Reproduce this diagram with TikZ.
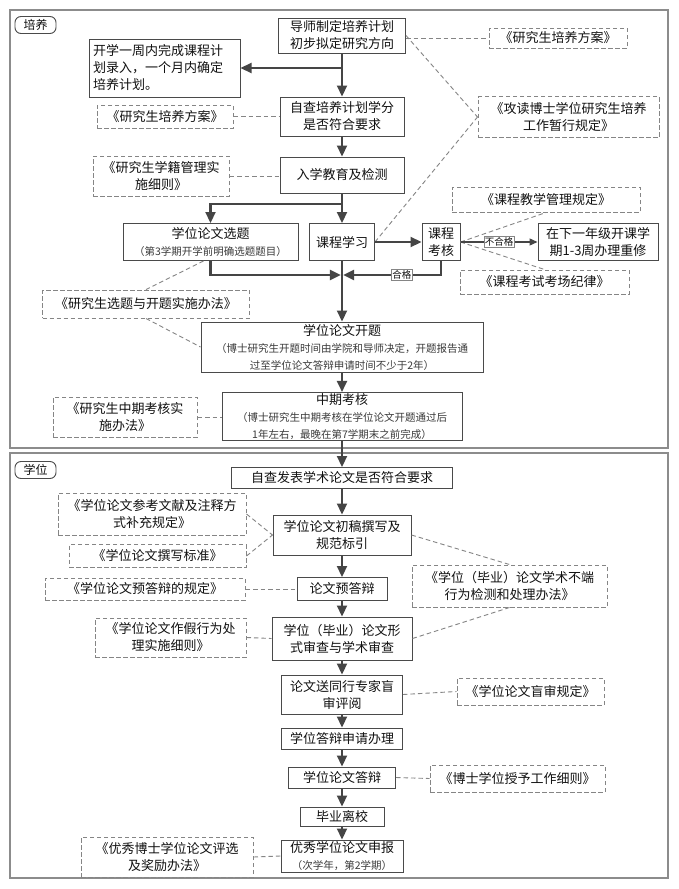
\documentclass[tikz,border=0pt]{standalone}
\usepackage{fontspec}
\setmainfont{Noto Sans CJK SC}
\newfontfamily\smf{Noto Sans CJK SC}
\usetikzlibrary{arrows.meta,calc}
\definecolor{bord}{HTML}{4A4A4A}
\definecolor{dashc}{HTML}{858585}
\definecolor{frm}{HTML}{8C8C8C}
\definecolor{arrc}{HTML}{454545}
\definecolor{txt}{HTML}{111111}
\definecolor{smc}{HTML}{3A3A3A}
\newcommand\smtxt{\smf\fontsize{10.5}{14}\selectfont\color{smc}}
\begin{document}
\begin{tikzpicture}[x=1pt,y=-1pt,
 sz/.style 2 args={minimum width=#1pt,minimum height=#2pt},
 box/.style={draw=bord,line width=1pt,fill=white,align=center,inner sep=1pt,text=txt,font=\fontsize{13}{17}\selectfont},
 dbox/.style={draw=dashc,line width=1pt,dash pattern=on 4.5pt off 2.5pt,fill=white,align=center,inner sep=1pt,text=txt,font=\fontsize{13}{17}\selectfont},
 tag/.style={draw=bord,line width=0.9pt,rounded corners=6pt,inner sep=0pt,text=txt,font=\fontsize{12}{14}\selectfont},
 frame/.style={draw=frm,line width=1.2pt},
 arr/.style={draw=arrc,line width=2.2pt,-{Triangle[length=11pt,width=10pt]}},
 arrthin/.style={draw=arrc,line width=1.3pt,-{Triangle[length=8pt,width=7pt]}},
 dl/.style={draw=dashc,line width=0.9pt,dash pattern=on 4.5pt off 3pt},
 lbl/.style={draw=dashc,line width=0.5pt,fill=white,inner sep=1pt,text=txt,font=\smf\fontsize{9.5}{10}\selectfont}
]
\useasboundingbox (0,0) rectangle (679,889);
\fill[white] (0,0) rectangle (679,889);
% frames
\draw[frame] (10,10) rectangle (668,448);
\draw[frame] (10,453) rectangle (668,878);
\node[tag,sz={41}{17}] (t1) at (35.5,25) {培养};
\node[tag,sz={41}{17}] (t2) at (35.5,470) {学位};

% ---- 培养 section
\node[box,sz={127}{35}] (n1) at (342,35.5) {导师制定培养计划\\初步拟定研究方向};
\node[dbox,sz={138}{20}] (r1) at (558,38) {《研究生培养方案》};
\node[box,sz={151}{58},align=left,text width=143pt] (n2) at (164.5,68) {开学一周内完成课程计\\划录入，一个月内确定\\培养计划。};
\node[box,sz={124}{39}] (n3) at (342,116.5) {自查培养计划学分\\是否符合要求};
\node[dbox,sz={136}{23}] (l1) at (165,116.5) {《研究生培养方案》};
\node[dbox,sz={181}{41}] (r2) at (568.5,117) {《攻读博士学位研究生培养\\工作暂行规定》};
\node[box,sz={124}{36}] (n4) at (342,175) {入学教育及检测};
\node[dbox,sz={136}{40}] (l2) at (161,176) {《研究生学籍管理实\\施细则》};
\node[dbox,sz={188}{25}] (d1) at (546,199.5) {《课程教学管理规定》};
\node[box,sz={175}{37}] (n5) at (210.5,242) {学位论文选题\\{\smtxt（第3学期开学前明确选题题目）}};
\node[box,sz={65}{37}] (n6) at (342,242) {课程学习};
\node[box,sz={38}{37}] (n7) at (441,242) {课程\\考核};
\node[box,sz={120}{37}] (n8) at (598,242) {在下一年级开课学\\期1-3周办理重修};
\node[dbox,sz={169}{24}] (d2) at (544.5,282) {《课程考试考场纪律》};
\node[dbox,sz={207}{28}] (l3) at (146,304) {《研究生选题与开题实施办法》};
\node[box,sz={282}{50}] (n9) at (342,347) {学位论文开题\\\smtxt（博士研究生开题时间由学院和导师决定，开题报告通\\\smtxt 过至学位论文答辩申请时间不少于2年）};
\node[box,sz={240}{47}] (n10) at (342,416.5) {中期考核\\\smtxt（博士研究生中期考核在学位论文开题通过后\\\smtxt 1年左右，最晚在第7学期末之前完成）};
\node[dbox,sz={144}{40}] (l4) at (125,417) {《研究生中期考核实\\施办法》};

% ---- 学位 section
\node[box,sz={221}{21}] (m1) at (342,478) {自查发表学术论文是否符合要求};
\node[box,sz={138}{40}] (m2) at (342,535) {学位论文初稿撰写及\\规范标引};
\node[dbox,sz={188}{42}] (l5) at (152,514) {《学位论文参考文献及注释方\\式补充规定》};
\node[dbox,sz={177}{23}] (l6) at (157.5,556) {《学位论文撰写标准》};
\node[box,sz={90}{23}] (m3) at (342,589) {论文预答辩};
\node[dbox,sz={200}{22}] (l7) at (145,589) {《学位论文预答辩的规定》};
\node[dbox,sz={195}{42}] (r3) at (509.5,586) {《学位（毕业）论文学术不端\\行为检测和处理办法》};
\node[box,sz={140}{43}] (m4) at (342,638.5) {学位（毕业）论文形\\式审查与学术审查};
\node[dbox,sz={151}{39}] (l8) at (170.5,637.5) {《学位论文作假行为处\\理实施细则》};
\node[box,sz={121}{39}] (m5) at (342,694.5) {论文送同行专家盲\\审评阅};
\node[dbox,sz={147}{27}] (r4) at (530.5,691.5) {《学位论文盲审规定》};
\node[box,sz={121}{21}] (m6) at (342,738.5) {学位答辩申请办理};
\node[box,sz={107}{21}] (m7) at (342,777.5) {学位论文答辩};
\node[dbox,sz={175}{27}] (r5) at (517.5,778.5) {《博士学位授予工作细则》};
\node[box,sz={84}{19}] (m8) at (342,816.5) {毕业离校};
\node[box,sz={122}{32}] (m9) at (342,856) {优秀学位论文申报\\{\smtxt（次学年，第2学期）}};
\node[dbox,sz={172}{40}] (l9) at (167,857) {《优秀博士学位论文评选\\及奖励办法》};

% ---- dashed connectors
\draw[dl] (r1.west -| n1.east) -- (r1.west);
\draw[dl] (n1.east) -- (r2.west);
\draw[dl] (n6.east) -- (r2.west);
\draw[dl] (l1.east) -- (l1.east -| n3.west);
\draw[dl] (l2.east) -- (l2.east -| n4.west);
\draw[dl] (n7.east) -- (d1.south);
\draw[dl] (n7.east) -- (d2.north);
\draw[dl] ([xshift=-7pt]n5.south) -- (l3.north);
\draw[dl] (l3.south) -- (n9.west);
\draw[dl] (l4.east) -- (l4.east -| n10.west);
\draw[dl] (l5.east) -- (m2.west);
\draw[dl] (l6.east) -- (m2.west);
\draw[dl] (m2.east) -- (r3.north);
\draw[dl] (m4.east) -- (r3.south);
\draw[dl] (l7.east) -- (m3.west);
\draw[dl] (l8.east) -- (m4.west);
\draw[dl] (m5.east) -- (r4.west);
\draw[dl] (m7.east) -- (r5.west);
\draw[dl] (l9.east) -- (m9.west);

% ---- solid arrows
\draw[arr] (n1.south) -- (n3.north);
\draw[arr] (n1.south |- n2.east) -- (n2.east);
\draw[arr] (n3.south) -- (n4.north);
\draw[arr] (n4.south) -- (n6.north);
\coordinate (j1) at (342,204);
\draw[arr] (j1) -| (n5.north);
\coordinate (mg) at (342,275);
\draw[arr] (n5.south) |- ([xshift=-1.1pt]mg);
\draw[arr] (n7.south) |- node[lbl,pos=0.7]{合格} ([xshift=1.1pt]mg);
\draw[arr] (n6.south) -- (n9.north);
\draw[arr] (n6.east) -- (n7.west);
\draw[arrthin] (n7.east) -- node[lbl]{不合格} (n8.west);
\draw[arr] (n9.south) -- (n10.north);
\draw[arr] (n10.south) -- (m1.north);
\draw[arr] (m1.south) -- (m2.north);
\draw[arr] (m2.south) -- (m3.north);
\draw[arr] (m3.south) -- (m4.north);
\draw[arr] (m4.south) -- (m5.north);
\draw[arr] (m5.south) -- (m6.north);
\draw[arr] (m6.south) -- (m7.north);
\draw[arr] (m7.south) -- (m8.north);
\draw[arr] (m8.south) -- (m9.north);
\end{tikzpicture}
\end{document}
